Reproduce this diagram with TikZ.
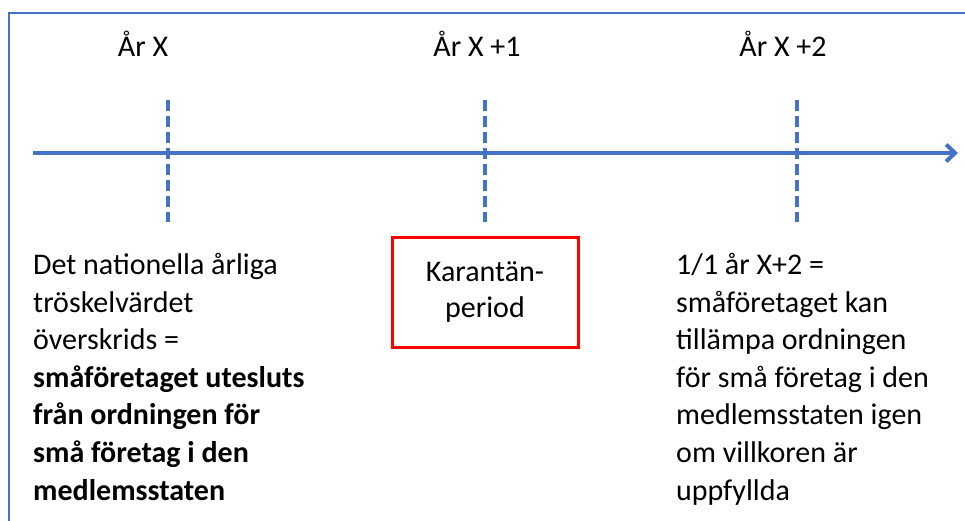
\documentclass[tikz,border=0pt]{standalone}
\usepackage{fontspec}
\setmainfont{Carlito}
\usepackage{xcolor}
\usetikzlibrary{arrows.meta}
\definecolor{linjeblå}{HTML}{4472C4}

\begin{document}
\begin{tikzpicture}[
      x=1pt, y=-1pt,
      font=\fontsize{30}{37.6}\selectfont,
      etikett/.style={anchor=base, inner sep=0pt},
      tidslinje/.style={-{Straight Barb[length=9pt, width=17pt]}, line width=4pt, linjeblå},
      markering/.style={line width=3.5pt, linjeblå, dash pattern=on 11pt off 5pt},
      ram/.style={line width=2.5pt, linjeblå},
      rutan/.style={draw=red, line width=3pt, minimum width=186pt, minimum height=110pt,
                   align=center, inner sep=0pt},
      stycke/.style={anchor=base west, align=left, inner sep=0pt}]
    \useasboundingbox (0,0) rectangle (965,521);
    % ram
    \coordinate (r1) at (9,530);
    \coordinate (r2) at (9,13);
    \coordinate (r3) at (970,13);
    \draw[ram] (r1) -- (r2) -- (r3);
    % tidslinje
    \coordinate (start) at (33,153);
    \coordinate (slut) at (958,153);
    \draw[tidslinje] (start) -- (slut);
    % år
    \foreach \i/\x/\lx/\txt in {1/168/143/{År X}, 2/485/477/{År X +1}, 3/797/783/{År X +2}} {
      \coordinate (m\i a) at (\x,100);
      \coordinate (m\i b) at (\x,222);
      \draw[markering] (m\i a) -- (m\i b);
      \node[etikett] (ar\i) at (\lx,57) {\txt};
    }
    \node[rutan] (karantan) at (485,292) {Karantän-\\[-2pt]period};
    % sista radens baslinje
    \node[stycke] (vanster) at (33,500) {Det nationella årliga\\
      tröskelvärdet\\
      överskrids =\\
      \textbf{småföretaget utesluts}\\
      \textbf{från ordningen för}\\
      \textbf{små företag i den}\\
      \textbf{medlemsstaten}};
    \node[stycke] (hoger) at (676,500) {1/1 år X+2 =\\
      småföretaget kan\\
      tillämpa ordningen\\
      för små företag i den\\
      medlemsstaten igen\\
      om villkoren är\\
      uppfyllda};
\end{tikzpicture}
\end{document}
